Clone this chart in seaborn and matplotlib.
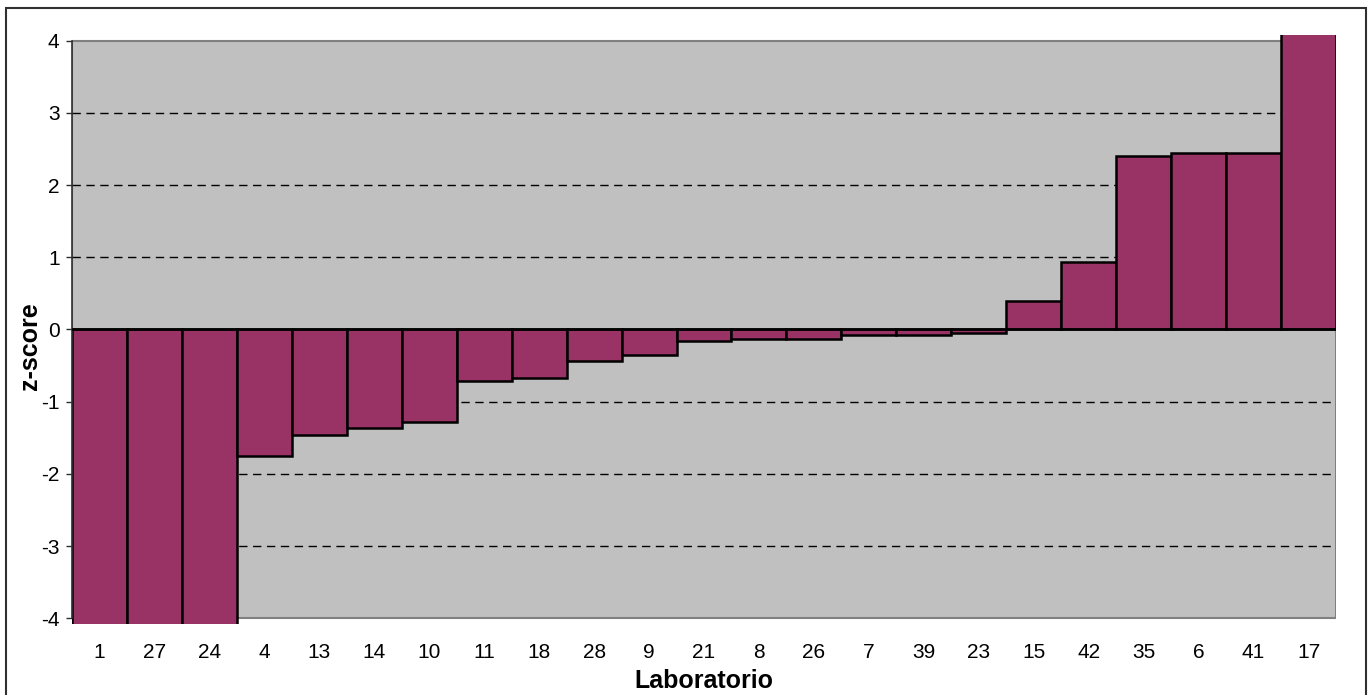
import pandas as pd
import matplotlib.pyplot as plt
import seaborn as sns
from matplotlib.patches import Rectangle

# z-score per lab, sorted ascending (values beyond +/-4 are clipped in the original)
labs = ['1', '27', '24', '4', '13', '14', '10', '11', '18', '28', '9', '21',
        '8', '26', '7', '39', '23', '15', '42', '35', '6', '41', '17']
zscores = [-6.2, -5.6, -4.9, -1.75, -1.46, -1.36, -1.28, -0.71, -0.67, -0.44, -0.35, -0.16,
           -0.13, -0.13, -0.08, -0.08, -0.05, 0.39, 0.94, 2.41, 2.45, 2.45, 5.3]
yticks = [-4, -3, -2, -1, 0, 1, 2, 3, 4]

sns.set_theme(style="white")
plt.rcParams['font.family'] = ['Liberation Sans', 'DejaVu Sans']
plt.rcParams['axes.unicode_minus'] = False
plt.rcParams['text.color'] = 'black'
plt.rcParams['axes.labelcolor'] = 'black'
plt.rcParams['xtick.color'] = 'black'
plt.rcParams['ytick.color'] = 'black'

df = pd.DataFrame({'Laboratorio': labs, 'z': zscores})

fig = plt.figure(figsize=(13.72, 6.95), dpi=100)
ax = fig.add_axes([72/1372, 1-624/695, (1336-72)/1372, 589/695])

# grey plot area like the excel chart
ax.axhspan(-4, 4, facecolor='#C0C0C0', edgecolor='#808080', lw=1.5, zorder=0)
for y in yticks[1:-1]:
    if y != 0:
        ax.axhline(y, color='black', lw=1, ls=(0, (6, 4)), zorder=0.5)

sns.barplot(data=df, x='Laboratorio', y='z', order=labs, color='#993366', saturation=1,
            width=1.0, edgecolor='black', linewidth=1.8, ax=ax, zorder=2)
ax.axhline(0, color='black', lw=1.8, zorder=3)

ax.set_xlim(-0.5, len(labs) - 0.5)
ax.set_ylim(-4.08, 4.08)
ax.set_yticks(yticks)
ax.set_facecolor('none')
for s in ['top', 'right', 'bottom']:
    ax.spines[s].set_visible(False)
ax.spines['left'].set_bounds(-4, 4)
ax.spines['left'].set_color('#303030')
ax.spines['left'].set_linewidth(1.2)

ax.tick_params(axis='y', length=4, width=1, color='#303030', pad=5, labelsize=15, left=True)
ax.tick_params(axis='x', length=0, pad=14, labelsize=15)
ax.set_xlabel('Laboratorio', fontsize=18, fontweight='bold', labelpad=4.5)
ax.set_ylabel('z-score', fontsize=18, fontweight='bold')
ax.yaxis.set_label_coords(-0.0237, 0.472)

# outer chart border
fig.patches.append(Rectangle((6/1372, -0.05), 1360/1372, 1.05 - 8/695, transform=fig.transFigure,
                             fill=False, edgecolor='#303030', lw=1.5))

fig.savefig('out.png', dpi=100)
